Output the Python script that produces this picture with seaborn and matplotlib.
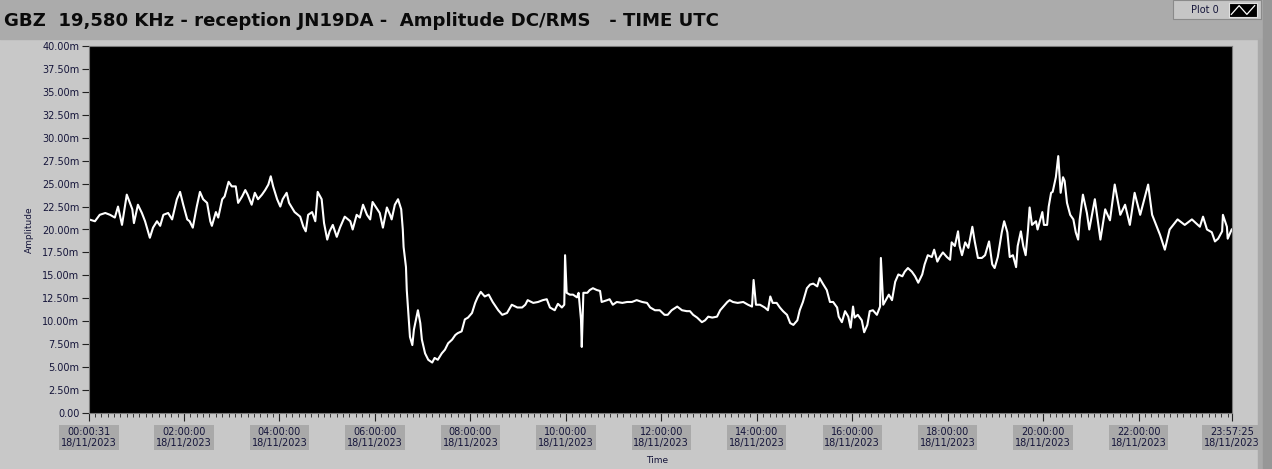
import numpy as np
import pandas as pd
import seaborn as sns
import matplotlib.pyplot as plt
from matplotlib.patches import Rectangle

# minutes after 00:00 UTC (18/11/2023) and amplitude in milli-units
minutes = [0.5, 8, 14, 21, 27, 33, 37, 42, 48, 55, 57, 62, 67, 71, 77, 81, 86, 90, 94, 100,
           105, 111, 115, 119, 124, 127, 131, 136, 140, 144, 149, 153, 155, 160, 163, 168, 171, 176, 180, 185,
           188, 193, 197, 200, 205, 209, 213, 218, 222, 226, 229, 232, 237, 241, 244, 249, 252, 259, 266, 270,
           273, 276, 281, 285, 288, 293, 296, 300, 303, 307, 312, 316, 322, 329, 332, 337, 341, 345, 350, 354,
           357, 363, 366, 370, 375, 379, 381, 385, 389, 393, 395, 396, 399, 400, 402, 404, 407, 409, 414, 417,
           419, 423, 427, 432, 435, 439, 444, 448, 452, 457, 461, 464, 469, 473, 477, 482, 486, 489, 493, 498,
           503, 508, 515, 520, 526, 532, 539, 545, 549, 552, 559, 565, 571, 576, 580, 586, 590, 595, 598, 599,
           601, 605, 609, 614, 616, 619, 620, 622, 627, 630, 634, 639, 643, 645, 652, 655, 659, 664, 671, 677,
           683, 689, 696, 702, 706, 712, 718, 724, 728, 733, 740, 746, 752, 756, 760, 765, 771, 775, 779, 784,
           790, 794, 798, 803, 806, 810, 816, 823, 829, 834, 836, 839, 844, 850, 854, 857, 860, 865, 869, 873,
           878, 882, 886, 891, 894, 898, 903, 907, 911, 916, 919, 923, 928, 932, 936, 941, 943, 947, 951, 955,
           958, 961, 963, 967, 972, 975, 979, 982, 986, 991, 995, 996, 999, 1004, 1006, 1010, 1014, 1018, 1023, 1026,
           1030, 1035, 1039, 1043, 1048, 1051, 1055, 1060, 1063, 1067, 1070, 1074, 1079, 1083, 1085, 1089, 1093, 1095, 1098, 1102,
           1106, 1111, 1114, 1118, 1123, 1127, 1132, 1136, 1139, 1143, 1148, 1151, 1155, 1158, 1162, 1166, 1168, 1172, 1175, 1178,
           1181, 1183, 1186, 1191, 1193, 1199, 1201, 1205, 1207, 1210, 1212, 1216, 1219, 1222, 1225, 1227, 1230, 1234, 1238, 1241,
           1244, 1246, 1250, 1255, 1258, 1265, 1272, 1278, 1284, 1290, 1297, 1303, 1309, 1315, 1322, 1332, 1337, 1347, 1353, 1359,
           1369, 1378, 1387, 1397, 1401, 1406, 1412, 1416, 1420, 1425, 1426, 1431, 1432, 1437]
amplitude = [21.1, 20.9, 21.6, 21.8, 21.6, 21.3, 22.5, 20.5, 23.8, 22.2, 20.7, 22.7, 21.8, 20.9, 19.1, 20.2, 20.9, 20.4, 21.6, 21.8,
             21.1, 23.3, 24.1, 22.7, 21.1, 20.9, 20.2, 22.5, 24.1, 23.3, 22.9, 20.9, 20.4, 21.9, 21.3, 23.3, 23.6, 25.2, 24.7, 24.7,
             22.9, 23.6, 24.3, 23.8, 22.7, 24.0, 23.3, 23.8, 24.3, 24.9, 25.8, 24.7, 23.3, 22.5, 23.3, 24.0, 22.9, 21.9, 21.4, 20.3,
             19.8, 21.6, 21.9, 20.9, 24.1, 23.3, 20.7, 18.9, 19.8, 20.5, 19.2, 20.2, 21.4, 20.9, 20.0, 21.6, 21.3, 22.7, 21.6, 21.1,
             23.0, 22.2, 21.8, 20.2, 22.4, 21.6, 21.1, 22.7, 23.3, 22.2, 20.0, 18.1, 15.9, 13.4, 10.9, 8.3, 7.4, 9.1, 11.2, 9.8,
             8.0, 6.5, 5.8, 5.5, 6.0, 5.8, 6.5, 6.9, 7.6, 8.0, 8.5, 8.7, 8.9, 10.2, 10.4, 10.9, 12.0, 12.6, 13.2, 12.7,
             12.9, 12.1, 11.2, 10.7, 10.9, 11.8, 11.5, 11.5, 11.8, 12.3, 12.0, 12.1, 12.3, 12.4, 11.5, 11.2, 11.9, 11.5, 11.8, 17.2,
             13.1, 12.9, 12.9, 12.6, 13.1, 10.2, 7.2, 13.1, 13.1, 13.4, 13.6, 13.4, 13.3, 12.1, 12.3, 12.4, 11.8, 12.1, 12.0, 12.1,
             12.1, 12.3, 12.1, 12.0, 11.5, 11.2, 11.2, 10.7, 10.7, 11.2, 11.6, 11.2, 11.1, 11.1, 10.7, 10.4, 9.9, 10.1, 10.5, 10.4,
             10.5, 11.2, 11.6, 12.1, 12.3, 12.1, 12.0, 12.1, 11.8, 11.6, 14.5, 11.8, 11.8, 11.5, 11.2, 12.7, 12.0, 12.0, 11.5, 11.1,
             10.7, 9.8, 9.6, 10.1, 11.2, 12.1, 13.6, 14.0, 14.1, 13.8, 14.7, 14.1, 13.4, 12.1, 12.1, 11.5, 10.5, 9.9, 11.1, 10.5,
             9.3, 11.6, 10.4, 10.7, 10.1, 8.8, 9.6, 11.1, 11.2, 10.7, 11.6, 16.9, 11.8, 12.6, 12.9, 12.3, 14.3, 15.1, 14.9, 15.4,
             15.8, 15.4, 14.9, 14.2, 15.1, 16.2, 17.2, 17.0, 17.8, 16.5, 17.0, 17.5, 17.0, 16.7, 18.6, 18.2, 19.8, 18.2, 17.2, 18.6,
             18.0, 20.3, 18.7, 16.9, 16.9, 17.2, 18.7, 16.2, 15.8, 17.0, 19.7, 20.9, 19.7, 17.0, 17.2, 15.9, 18.2, 19.8, 18.2, 17.2,
             20.0, 22.4, 20.5, 20.9, 20.0, 21.9, 20.5, 20.5, 22.5, 24.0, 24.1, 25.7, 28.0, 24.0, 25.7, 25.3, 22.9, 21.6, 21.1, 19.7,
             18.9, 21.1, 23.8, 21.8, 20.0, 23.3, 18.9, 22.2, 21.0, 24.9, 21.6, 22.7, 20.5, 24.0, 21.6, 24.9, 21.6, 19.4, 17.8, 20.0,
             21.1, 20.5, 21.1, 20.3, 21.4, 20.0, 19.7, 18.7, 19.0, 19.8, 21.6, 20.3, 19.0, 20.0]

xtick_min = [0.52, 120, 240, 360, 480, 600, 720, 840, 960, 1080, 1200, 1320, 1437.42]
xtick_time = ["00:00:31", "02:00:00", "04:00:00", "06:00:00", "08:00:00", "10:00:00", "12:00:00",
              "14:00:00", "16:00:00", "18:00:00", "20:00:00", "22:00:00", "23:57:25"]
date_txt = "18/11/2023"
ytick_vals = [0, 2.5, 5, 7.5, 10, 12.5, 15, 17.5, 20, 22.5, 25, 27.5, 30, 32.5, 35, 37.5, 40]

title = "GBZ  19,580 KHz - reception JN19DA -  Amplitude DC/RMS   - TIME UTC"
txt_col = "#15153a"

W, H = 1272, 469
fig = plt.figure(figsize=(W / 100, H / 100), dpi=100, facecolor="#c8c8c8")

# window decoration
fig.patches.append(Rectangle((0, 1 - 39 / H), 1, 39 / H, transform=fig.transFigure,
                             color="#ababab", zorder=0))
fig.patches.append(Rectangle((1258 / W, 0), 5 / W, 1 - 39 / H, transform=fig.transFigure,
                             color="#a9a9a9", zorder=0))
fig.patches.append(Rectangle((1263 / W, 0), 9 / W, 1, transform=fig.transFigure,
                             color="#979797", zorder=0))
fig.patches.append(Rectangle((1173 / W, 1 - 19 / H), 88 / W, 19 / H, transform=fig.transFigure,
                             facecolor="#c6c6c6", edgecolor="#8a8a8a", lw=0.8, zorder=1))
fig.text(1205 / W, 1 - 10 / H, "Plot 0", fontsize=7, color=txt_col, ha="center", va="center")
icon = fig.add_axes([1229 / W, 1 - 17 / H, 28 / W, 14 / H])
icon.set_zorder(5)
icon.set_facecolor("black")
icon.plot([0, 1, 2, 3], [0, 1, 0, 1], color="white", lw=0.9)
icon.set_xlim(-0.3, 3.3)
icon.set_ylim(-0.3, 1.3)
icon.set_xticks([])
icon.set_yticks([])
for sp in icon.spines.values():
    sp.set_color("#e0e0e0")
    sp.set_linewidth(0.8)

fig.text(4 / W, 1 - 21 / H, title, fontsize=13.1, fontweight="bold", color="#0a0a0a",
         ha="left", va="center")

ax = fig.add_axes([89 / W, 56 / H, 1143 / W, 367 / H])
df = pd.DataFrame({"Time": minutes, "Amplitude": amplitude})
sns.lineplot(data=df, x="Time", y="Amplitude", color="white", lw=1.5, ax=ax)
ax.set_facecolor("black")
ax.set_xlim(xtick_min[0], xtick_min[-1])
ax.set_ylim(0, 40)

ax.set_yticks(ytick_vals)
ax.set_yticklabels(["0.00" if v == 0 else f"{v:.2f}m" for v in ytick_vals])
ax.set_xticks(xtick_min)
ax.set_xticklabels([f"{t}\n{date_txt}" for t in xtick_time])
ax.set_xticks(np.arange(8, 1437, 8), minor=True)

ax.tick_params(axis="x", which="major", length=6, color="#222222", pad=4,
               labelsize=7, labelcolor=txt_col)
ax.tick_params(axis="x", which="minor", length=3, color="#222222")
ax.tick_params(axis="y", length=5, color="#222222", pad=2, labelsize=7, labelcolor=txt_col)
for lbl in ax.get_xticklabels():
    lbl.set_bbox(dict(facecolor="#a9a9a9", edgecolor="none", pad=1.3))
    lbl.set_linespacing(1.1)

for sp in ax.spines.values():
    sp.set_color("#7a7a7a")
    sp.set_linewidth(0.8)

ax.set_xlabel("Time", fontsize=6.5, color=txt_col)
ax.set_ylabel("Amplitude", fontsize=6.5, color=txt_col)
ax.xaxis.set_label_coords(0.497, -0.117)
ax.yaxis.set_label_coords(-0.048, 0.5)

fig.savefig("out.png", dpi=100, facecolor=fig.get_facecolor())
